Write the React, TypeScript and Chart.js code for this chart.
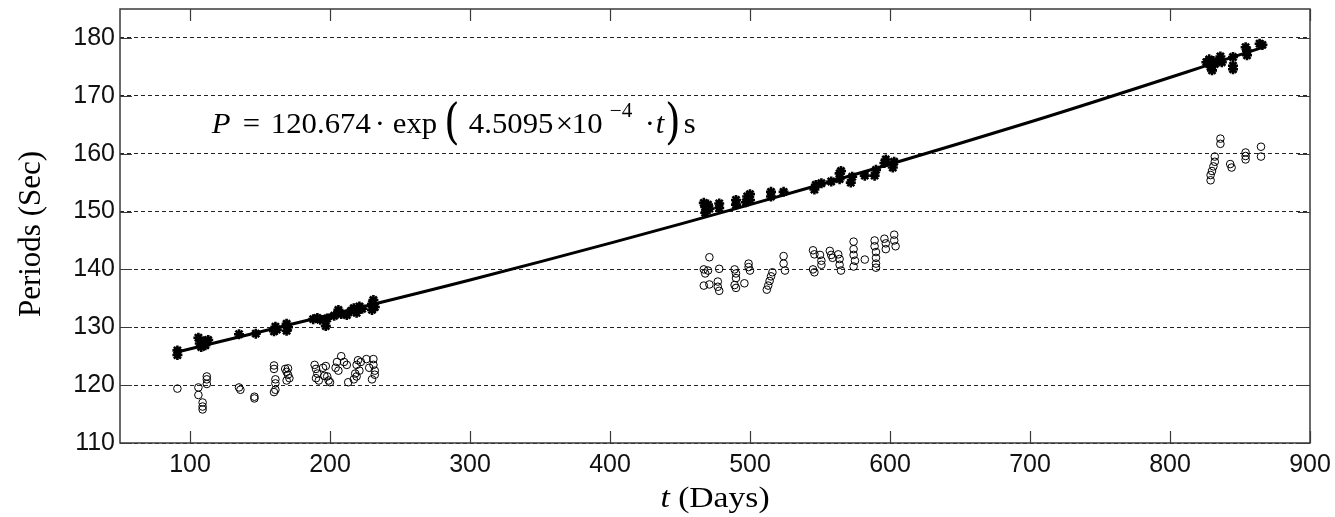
import React, { useEffect, useRef } from "react";
import { Chart, registerables } from "chart.js";

Chart.register(...registerables);

// ---------- data ----------
const xTickValues = [100, 200, 300, 400, 500, 600, 700, 800, 900];
const yTickValues = [110, 120, 130, 140, 150, 160, 170, 180];

// Filled (asterisk) markers
const starT = [
  91, 91, 106, 107, 108, 110, 111, 113, 135, 147, 160, 161, 162, 169, 169, 170,
  188, 191, 193, 197, 198, 203, 206, 208, 212, 215, 217, 219, 221, 223, 230, 230, 231, 232,
  467, 468, 469, 470, 471, 468, 478, 478, 490, 490, 497, 498, 500, 500, 515, 515, 524,
  546, 547, 551, 558, 564, 564, 565, 572, 573, 582, 589, 590, 596, 597, 602, 603,
  826, 828, 829, 830, 831, 832, 836, 837, 845, 845, 845, 854, 855, 855, 864, 866,
];
const starP = [
  125.2, 126.0, 128.2, 127.2, 126.6, 127.6, 126.9, 127.8, 128.8, 128.9, 129.3, 130.1, 129.6, 129.4, 130.6, 130.0,
  131.4, 131.6, 131.3, 130.2, 131.5, 132.0, 133.0, 132.3, 132.1, 132.8, 133.3, 132.5, 133.6, 133.2, 133.0, 134.0, 134.7, 133.5,
  151.5, 150.8, 150.2, 151.2, 150.5, 149.8, 150.6, 151.4, 151.2, 152.0, 151.6, 152.6, 153.0, 152.0, 152.6, 153.4, 153.4,
  153.8, 154.6, 154.9, 155.2, 155.6, 156.6, 157.0, 155.0, 156.0, 156.2, 156.2, 157.2, 158.4, 159.0, 157.6, 158.6,
  175.8, 176.3, 175.0, 174.4, 176.0, 175.5, 176.8, 175.8, 176.7, 175.2, 174.6, 178.4, 177.8, 177.0, 179.0, 178.8,
];

// Open circle markers
const circT = [
  91, 106, 106, 109, 109, 109, 112, 112, 112, 135, 136, 146, 146,
  160, 160, 161, 161, 161, 160, 168, 169, 170, 171, 169, 170,
  189, 190, 191, 190, 192, 195, 196, 198, 199, 200, 197,
  204, 205, 208, 210, 212, 206, 213, 217, 218, 219, 220, 221, 219, 222,
  226, 228, 231, 231, 232, 232, 230,
  467, 468, 470, 471, 478, 467, 471, 477, 477, 478, 489, 490, 490, 489, 490, 496, 499, 499, 500,
  512, 513, 514, 515, 516, 524, 524, 525,
  545, 546, 545, 546, 550, 551, 551, 557, 558, 559, 563, 564, 564, 565,
  574, 574, 574, 575, 574, 582, 589, 589, 590, 590, 590, 590, 596, 597, 597, 603, 603, 604,
  836, 836, 829, 829, 830, 831, 832, 832, 843, 844, 854, 854, 854, 865, 865,
];
const circP = [
  119.4, 119.6, 118.3, 117.0, 116.3, 115.8, 121.5, 121.0, 120.2, 119.6, 119.2, 118.0, 117.7,
  123.4, 122.8, 121.0, 120.3, 119.2, 118.8, 122.8, 122.3, 121.8, 121.2, 120.8, 122.9,
  123.5, 122.8, 122.0, 121.2, 120.8, 123.0, 121.6, 121.5, 120.8, 120.5, 123.3,
  123.0, 124.0, 125.0, 124.0, 123.5, 122.5, 120.5, 121.0, 122.0, 123.5, 124.3, 122.5, 121.5, 124.0,
  124.5, 123.0, 124.5, 123.5, 122.5, 121.8, 121.0,
  140.0, 139.3, 139.8, 142.1, 140.1, 137.2, 137.4, 137.9, 137.0, 136.3, 140.0, 139.3, 138.5, 137.3, 136.8, 137.6, 141.0, 140.4, 139.8,
  136.5, 137.2, 138.0, 138.8, 139.5, 142.3, 141.0, 139.8,
  143.3, 142.6, 140.0, 139.5, 142.5, 141.5, 140.8, 143.2, 142.5, 142.0, 142.6, 141.8, 140.8, 139.8,
  144.8, 143.5, 142.5, 141.5, 140.5, 141.7, 145.0, 144.0, 143.0, 142.0, 141.0, 140.3, 145.3, 144.5, 143.5, 146.0, 145.0, 144.0,
  162.6, 161.7, 155.4, 156.3, 157.0, 157.8, 158.6, 159.5, 158.2, 157.6, 160.2, 159.6, 159.0, 161.2, 159.5,
];

// Fitted curve
const fitT = [90, 300, 500, 700, 868];
const fitP = [125.67, 138.16, 151.19, 165.47, 178.49];

// Equation anchor (data coordinates)
const eqAnchorT = 115.6;
const eqAnchorP = 163.5;

const SERIF = "'Liberation Serif', 'Times New Roman', serif";
const SANS = "'Liberation Sans', Arial, sans-serif";

const framePlugin = {
  id: "frame",
  afterDraw(chart: any) {
    const { ctx, chartArea: a, scales } = chart;
    const xs = scales.x;
    const ys = scales.y;
    ctx.save();
    // box
    ctx.strokeStyle = "#3a3a3a";
    ctx.lineWidth = 1.5;
    ctx.strokeRect(a.left, a.top, a.right - a.left, a.bottom - a.top);
    // inward ticks
    const L = 12;
    ctx.lineWidth = 1.2;
    ctx.beginPath();
    xTickValues.forEach((v) => {
      const px = Math.round(xs.getPixelForValue(v)) + 0.5;
      ctx.moveTo(px, a.bottom);
      ctx.lineTo(px, a.bottom - L);
      ctx.moveTo(px, a.top);
      ctx.lineTo(px, a.top + L);
    });
    yTickValues.forEach((v) => {
      const py = Math.round(ys.getPixelForValue(v)) + 0.5;
      ctx.moveTo(a.left, py);
      ctx.lineTo(a.left + L, py);
      ctx.moveTo(a.right, py);
      ctx.lineTo(a.right - L, py);
    });
    ctx.stroke();

    ctx.fillStyle = "#000";
    // x title
    const cx = (a.left + a.right) / 2;
    ctx.save();
    ctx.translate(cx, 507);
    ctx.scale(1.12, 1);
    ctx.textBaseline = "alphabetic";
    ctx.font = `italic 30px ${SERIF}`;
    const tW = ctx.measureText("t").width;
    ctx.font = `30px ${SERIF}`;
    const rest = " (Days)";
    const rW = ctx.measureText(rest).width;
    const start = -(tW + rW) / 2;
    ctx.font = `italic 30px ${SERIF}`;
    ctx.textAlign = "left";
    ctx.fillText("t", start, 0);
    ctx.font = `30px ${SERIF}`;
    ctx.fillText(rest, start + tW, 0);
    ctx.restore();

    // y title
    ctx.save();
    ctx.translate(40, (a.top + a.bottom) / 2 + 8);
    ctx.rotate(-Math.PI / 2);
    ctx.font = `31px ${SERIF}`;
    ctx.textAlign = "center";
    ctx.textBaseline = "alphabetic";
    ctx.fillText("Periods (Sec)", 0, 0);
    ctx.restore();

    // equation
    const ex = xs.getPixelForValue(eqAnchorT);
    const ey = ys.getPixelForValue(eqAnchorP);
    const F = 29;
    const pieces: [string, string, number, number][] = [
      ["P", `italic ${F}px ${SERIF}`, 0, 0],
      ["=", `${F}px ${SERIF}`, 31, 0],
      ["120.674", `${F}px ${SERIF}`, 59, 0],
      ["\u00B7", `${F}px ${SERIF}`, 163, 0],
      ["exp", `${F}px ${SERIF}`, 181, 0],
      ["4.5095", `${F}px ${SERIF}`, 257, 0],
      ["\u00D7", `${F}px ${SERIF}`, 344, 0],
      ["10", `${F}px ${SERIF}`, 360, 0],
      ["\u22124", `20px ${SERIF}`, 398, -16],
      ["\u00B7", `${F}px ${SERIF}`, 433, 0],
      ["t", `italic ${F}px ${SERIF}`, 444, 0],
      ["s", `${F}px ${SERIF}`, 472, 0],
    ];
    ctx.textAlign = "left";
    ctx.textBaseline = "alphabetic";
    pieces.forEach(([txt, font, dx, dy]) => {
      ctx.save();
      ctx.translate(ex + dx, ey + dy);
      ctx.scale(1.06, 1);
      ctx.font = font;
      ctx.fillText(txt, 0, 0);
      ctx.restore();
    });
    // big parentheses
    const paren = (ch: string, dx: number) => {
      ctx.save();
      ctx.translate(ex + dx, ey - 11);
      ctx.scale(1.15, 1.6);
      ctx.font = `30px ${SERIF}`;
      ctx.textBaseline = "middle";
      ctx.fillText(ch, 0, 0);
      ctx.fillText(ch, 0.6, 0);
      ctx.restore();
    };
    paren("(", 234);
    paren(")", 455);
    ctx.restore();
  },
};

export default function App() {
  const ref = useRef<HTMLCanvasElement | null>(null);
  useEffect(() => {
    if (!ref.current) return;
    const stars = starT.map((t, i) => ({ x: t, y: starP[i] }));
    const circles = circT.map((t, i) => ({ x: t, y: circP[i] }));
    const fit = fitT.map((t, i) => ({ x: t, y: fitP[i] }));
    const chart = new Chart(ref.current, {
      type: "scatter",
      data: {
        datasets: [
          {
            label: "fit",
            data: fit,
            showLine: true,
            borderColor: "#000",
            borderWidth: 3,
            pointRadius: 0,
            cubicInterpolationMode: "monotone",
            order: 1,
          } as any,
          {
            label: "stars",
            data: stars,
            pointStyle: "star",
            pointRadius: 5,
            borderColor: "#000",
            backgroundColor: "#000",
            pointBorderWidth: 2.6,
            borderWidth: 2.6,
            order: 2,
          } as any,
          {
            label: "circles",
            data: circles,
            pointStyle: "circle",
            pointRadius: 3.8,
            borderColor: "#000",
            backgroundColor: "rgba(0,0,0,0)",
            pointBorderWidth: 1,
            borderWidth: 1,
            order: 3,
          } as any,
        ],
      },
      options: {
        animation: false,
        responsive: true,
        maintainAspectRatio: false,
        layout: { padding: { top: 9, right: 25, left: 0, bottom: 0 } },
        plugins: {
          legend: { display: false },
          tooltip: { enabled: false },
        },
        scales: {
          x: {
            type: "linear",
            min: 50,
            max: 900,
            afterBuildTicks: (s: any) => {
              s.ticks = xTickValues.map((v) => ({ value: v }));
            },
            afterFit: (s: any) => {
              s.height = 74;
              s.paddingLeft = 0;
              s.paddingRight = 0;
            },
            grid: { display: false, drawTicks: false },
            border: { display: false },
            ticks: {
              color: "#111",
              font: { family: SANS, size: 25 },
              padding: 7,
              maxRotation: 0,
              autoSkip: false,
            },
          },
          y: {
            type: "linear",
            min: 110,
            max: 185,
            afterBuildTicks: (s: any) => {
              s.ticks = yTickValues.map((v) => ({ value: v }));
            },
            afterFit: (s: any) => {
              s.width = 120;
              s.paddingTop = 0;
              s.paddingBottom = 0;
            },
            grid: { color: "#222", lineWidth: 1, drawTicks: false },
            border: { display: false, dash: [4, 3] },
            ticks: {
              color: "#111",
              font: { family: SANS, size: 25 },
              padding: 5,
              autoSkip: false,
            },
          },
        },
      },
      plugins: [framePlugin],
    });
    return () => chart.destroy();
  }, []);
  return (
    <div style={{ position: "absolute", left: 0, top: 0, width: 1335, height: 517, background: "#fff" }}>
      <canvas ref={ref} />
    </div>
  );
}
